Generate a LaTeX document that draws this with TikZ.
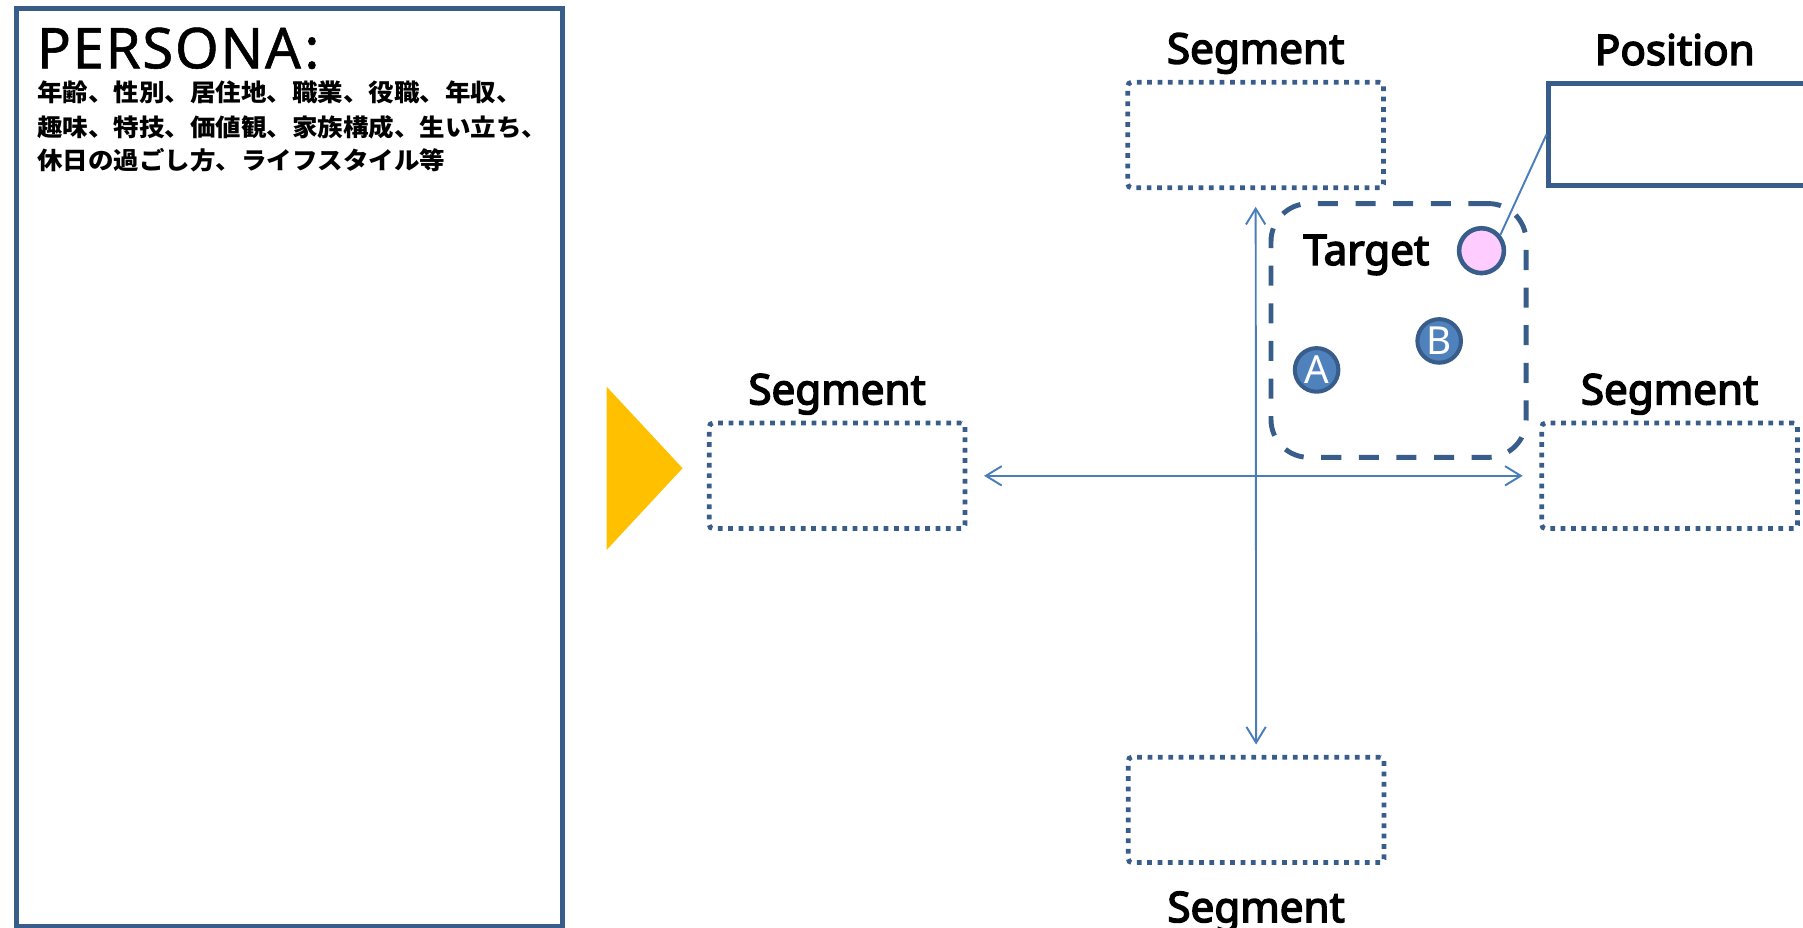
\documentclass[tikz,border=0pt]{standalone}
\usepackage{fontspec}
\setmainfont{Noto Sans}
\newfontfamily\labfont{Noto Sans}[FakeBold=3.5]
\newfontfamily\jpfont{Noto Sans CJK JP}[FakeStretch=1.06]
\newfontfamily\headfont{Noto Sans}[LetterSpace=3,FakeBold=1]
\usetikzlibrary{arrows.meta,positioning}
\definecolor{frameblue}{RGB}{56,93,138}
\definecolor{lineblue}{RGB}{74,126,187}
\definecolor{fillblue}{RGB}{79,129,189}
\definecolor{pinkfill}{RGB}{255,204,255}
\definecolor{goldtri}{RGB}{255,192,0}
\begin{document}
\begin{tikzpicture}[x=0.023cm,y=-0.023cm,
  segbox/.style={draw=frameblue,line width=2.7pt,dash pattern=on 2.7pt off 3.2pt,rounded corners=2pt,minimum width=145.5pt,minimum height=60pt,inner sep=0pt},
  lbl/.style={font=\labfont\fontsize{24}{28}\selectfont,inner sep=0pt},
  jptext/.style={anchor=base west,inner sep=0pt,font=\jpfont\bfseries\fontsize{13.7}{19.4}\selectfont},
  brandcirc/.style={circle,draw=frameblue,line width=2.3pt,fill=fillblue,text=white,minimum size=24.8pt,inner sep=0pt,font=\fontsize{22}{24}\selectfont},
  axisline/.style={lineblue,line width=1.1pt,{Straight Barb[length=9pt,width=11pt]}-{Straight Barb[length=9pt,width=11pt]}},
  conn/.style={lineblue,line width=1.1pt}]
\useasboundingbox (0,0) rectangle (1568,807);
\node[draw=frameblue,line width=2.7pt,minimum width=310.4pt,minimum height=522pt,inner sep=0pt] (persona) at (251.75,406.6) {};
\node[anchor=base west,inner sep=0pt,font=\headfont\fontsize{32}{36}\selectfont] (perhead) at (31.9,59.4) {PERSONA\kern2pt:};
\node[jptext] (per1) at (31.9,88.3) {年齢、性別、居住地、職業、役職、年収、};
\node[jptext] (per2) at (31.9,118.3) {趣味、特技、価値観、家族構成、生い立ち、};
\node[jptext] (per3) at (31.9,147.8) {休日の過ごし方、ライフスタイル等};
\fill[goldtri] (527.5,336.2) -- (593.6,407.2) -- (527.5,478.3) -- cycle;
\node[segbox] (lseg) at (728,413.8) {};
\node[segbox] (tseg) at (1092,117.4) {};
\node[segbox] (rseg) at (1452,413.8) {};
\node[segbox] (bseg) at (1092.4,704.3) {};
\node[lbl,anchor=base] (lsegt) at ([yshift=9.3pt]lseg.north) {Segment};
\node[lbl,anchor=base] (tsegt) at ([yshift=9.3pt]tseg.north) {Segment};
\node[lbl,anchor=base] (rsegt) at ([yshift=9.3pt]rseg.north) {Segment};
\node[lbl,anchor=base] (bsegt) at ([yshift=-32.5pt]bseg.south) {Segment};
\node[draw=frameblue,line width=2.9pt,minimum width=165.3pt,minimum height=57.7pt,inner sep=0pt] (pos) at (1473.35,117.1) {};
\node[lbl,anchor=base] (post) at (1456.5,56.5) {Position};
\draw[axisline,shorten <=9.5pt,shorten >=9.5pt] (lseg.east) -- (rseg.west);
\draw[axisline,shorten <=9.5pt,shorten >=5.8pt] (tseg.south) -- (bseg.north);
\node[draw=frameblue,line width=2.8pt,dash pattern=on 11.4pt off 10pt,rounded corners=21.5pt,minimum width=145.2pt,minimum height=144.4pt,inner sep=0pt] (target) at (1216.3,287.4) {};
\node[lbl,anchor=base west] (targett) at (1133.3,230.4) {Target};
\node[brandcirc,fill=pinkfill,line width=2.6pt,minimum size=25.5pt] (pink) at (1288.4,218) {};
\node[brandcirc] (ca) at (1145,321.7) {A};
\node[brandcirc] (cb) at (1251.6,296.5) {B};
\draw[conn] (pink.40) -- (pos.west);
\end{tikzpicture}
\end{document}
